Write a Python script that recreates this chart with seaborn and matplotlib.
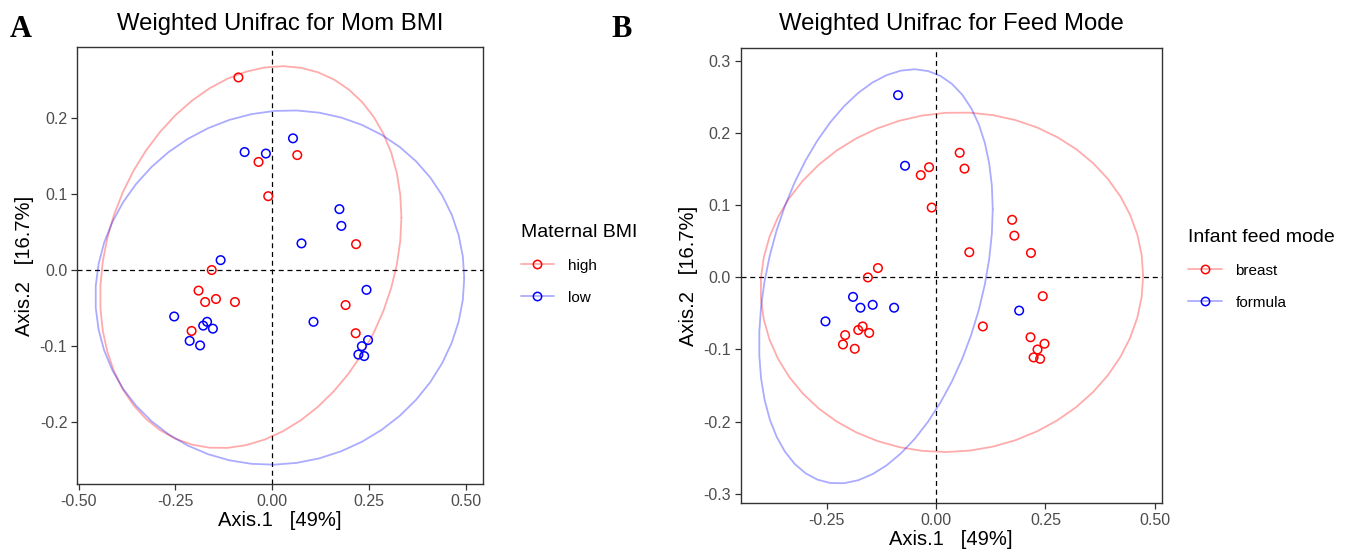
import numpy as np
import pandas as pd
import matplotlib
matplotlib.use("Agg")
import matplotlib.pyplot as plt
import seaborn as sns
from matplotlib.lines import Line2D

# PCoA coordinates (weighted UniFrac), one entry per sample
axis1 = [-0.087, -0.071, -0.190, -0.173, -0.145, -0.096, -0.253, 0.190,
         0.054, 0.065, -0.016, -0.035, -0.010, 0.174, 0.179, 0.217,
         0.076, -0.133, -0.156, 0.244, 0.107, -0.168, -0.178, -0.153,
         -0.208, -0.213, -0.186, 0.216, 0.248, 0.232, 0.223, 0.238]
axis2 = [0.253, 0.155, -0.027, -0.042, -0.038, -0.042, -0.061, -0.046,
         0.173, 0.151, 0.153, 0.142, 0.097, 0.080, 0.058, 0.034,
         0.035, 0.013, 0.000, -0.026, -0.068, -0.068, -0.073, -0.077,
         -0.080, -0.093, -0.099, -0.083, -0.092, -0.100, -0.111, -0.113]
feed_mode = ["formula"] * 8 + ["breast"] * 24
maternal_bmi = ["high", "low", "high", "high", "high", "high", "low", "high",
                "low", "high", "low", "high", "high", "low", "low", "high",
                "low", "low", "high", "low", "low", "low", "low", "low",
                "high", "low", "low", "high", "low", "low", "low", "low"]

x_label = "Axis.1   [49%]"
y_label = "Axis.2   [16.7%]"

df = pd.DataFrame({"Axis.1": axis1, "Axis.2": axis2,
                   "feed": feed_mode, "bmi": maternal_bmi})


def cov_trob(xy, nu=5, maxit=25, tol=0.01):
    # port of MASS::cov.trob, as used by ggplot2 stat_ellipse(type = "t")
    n, p = xy.shape
    wt = np.ones(n)
    loc = xy.mean(axis=0)
    w = np.sqrt(wt)
    for _ in range(maxit):
        w0 = w
        X = xy - loc
        _, d, vt = np.linalg.svd(np.sqrt(w / w.sum())[:, None] * X, full_matrices=False)
        wX = X @ vt.T @ np.diag(1 / d)
        Q = (wX ** 2).sum(axis=1)
        w = wt * (nu + p) / (nu + Q)
        loc = (w[:, None] * xy).sum(axis=0) / w.sum()
        if np.all(np.abs(w - w0) < tol):
            break
    cov = (np.sqrt(w)[:, None] * X).T @ (np.sqrt(w)[:, None] * X) / wt.sum()
    return loc, cov


def ellipse_path(xy, level=0.95, segments=51):
    n = len(xy)
    center, shape = cov_trob(xy)
    dfd = n - 1
    # F quantile with dfn = 2 has a closed form
    qf = dfd / 2 * ((1 - level) ** (-2 / dfd) - 1)
    radius = np.sqrt(2 * qf)
    ang = np.arange(segments + 1) * 2 * np.pi / segments
    circle = np.column_stack([np.cos(ang), np.sin(ang)])
    L = np.linalg.cholesky(shape)
    return center + radius * circle @ L.T


sns.set_theme(style="white")
plt.rcParams["font.family"] = ["Liberation Sans", "DejaVu Sans"]
plt.rcParams["axes.unicode_minus"] = False
plt.rcParams["text.color"] = "black"
plt.rcParams["axes.labelcolor"] = "black"

palette = {"high": "#FF0000", "low": "#0000FF",
           "breast": "#FF0000", "formula": "#0000FF"}

fig = plt.figure(figsize=(13.59, 5.54), dpi=100)
ax_a = fig.add_axes([0.0567, 0.1264, 0.2987, 0.7888])
ax_b = fig.add_axes([0.5450, 0.0921, 0.3098, 0.8207])


def draw_panel(ax, col, levels, title, legend_title, xlim, ylim, xticks, yticks,
               xfmt, yfmt, legend_anchor, title_pad):
    ax.axhline(0, color="black", lw=0.9, ls=(0, (4, 3)), zorder=1)
    ax.axvline(0, color="black", lw=0.9, ls=(0, (4, 3)), zorder=1)
    for lev in levels:
        sub = df[df[col] == lev]
        path = ellipse_path(sub[["Axis.1", "Axis.2"]].to_numpy())
        ax.plot(path[:, 0], path[:, 1], color=palette[lev], alpha=0.33, lw=1.3, zorder=2)
    sns.scatterplot(data=df, x="Axis.1", y="Axis.2", hue=col, hue_order=levels,
                    palette=palette, s=38, ax=ax, legend=False, zorder=3)
    coll = ax.collections[-1]
    fc = coll.get_facecolors()
    coll.set_edgecolors(fc)
    coll.set_facecolors("none")
    coll.set_linewidth(1.1)

    ax.set_xlim(*xlim)
    ax.set_ylim(*ylim)
    ax.set_xticks(xticks)
    ax.set_xticklabels([xfmt.format(v) for v in xticks])
    ax.set_yticks(yticks)
    ax.set_yticklabels([yfmt.format(v) for v in yticks])
    ax.tick_params(axis="both", direction="out", length=4, width=0.9,
                   color="#333333", labelcolor="#4D4D4D", labelsize=11.5,
                   bottom=True, left=True, pad=3)
    for sp in ax.spines.values():
        sp.set_color("#333333")
        sp.set_linewidth(1.0)
    ax.set_xlabel(x_label, fontsize=14.5, labelpad=2, color="black")
    ax.set_ylabel(y_label, fontsize=14.5, labelpad=4, color="black")
    ax.set_title(title, fontsize=17.2, pad=title_pad, color="black")

    handles = [Line2D([0], [0], color=palette[lev], alpha=0.33, lw=1.3) for lev in levels]
    markers = [Line2D([0], [0], ls="none", marker="o", ms=6, mfc="none",
                      mec=palette[lev], mew=1.1) for lev in levels]
    leg = fig.legend([(h, m) for h, m in zip(handles, markers)], levels,
                     title=legend_title, loc="upper left", bbox_to_anchor=legend_anchor,
                     frameon=False, fontsize=11, title_fontsize=14,
                     handlelength=2.2, labelspacing=1.18, handletextpad=0.9)
    leg._legend_box.align = "left"


draw_panel(ax_a, "bmi", ["high", "low"], "Weighted Unifrac for Mom BMI", "Maternal BMI",
           (-0.504, 0.545), (-0.281, 0.293), [-0.5, -0.25, 0, 0.25, 0.5],
           [-0.2, -0.1, 0, 0.1, 0.2], "{:.2f}", "{:.1f}", (0.373, 0.621), 12.2)
draw_panel(ax_b, "feed", ["breast", "formula"], "Weighted Unifrac for Feed Mode",
           "Infant feed mode", (-0.447, 0.516), (-0.313, 0.318),
           [-0.25, 0, 0.25, 0.5], [-0.3, -0.2, -0.1, 0, 0.1, 0.2, 0.3],
           "{:.2f}", "{:.1f}", (0.864, 0.612), 13.0)

fig.text(0.007, 0.933, "A", fontsize=22, fontweight="bold", family="Liberation Serif",
         va="baseline", ha="left")
fig.text(0.450, 0.933, "B", fontsize=22, fontweight="bold", family="Liberation Serif",
         va="baseline", ha="left")

fig.savefig("out.png", dpi=100)
